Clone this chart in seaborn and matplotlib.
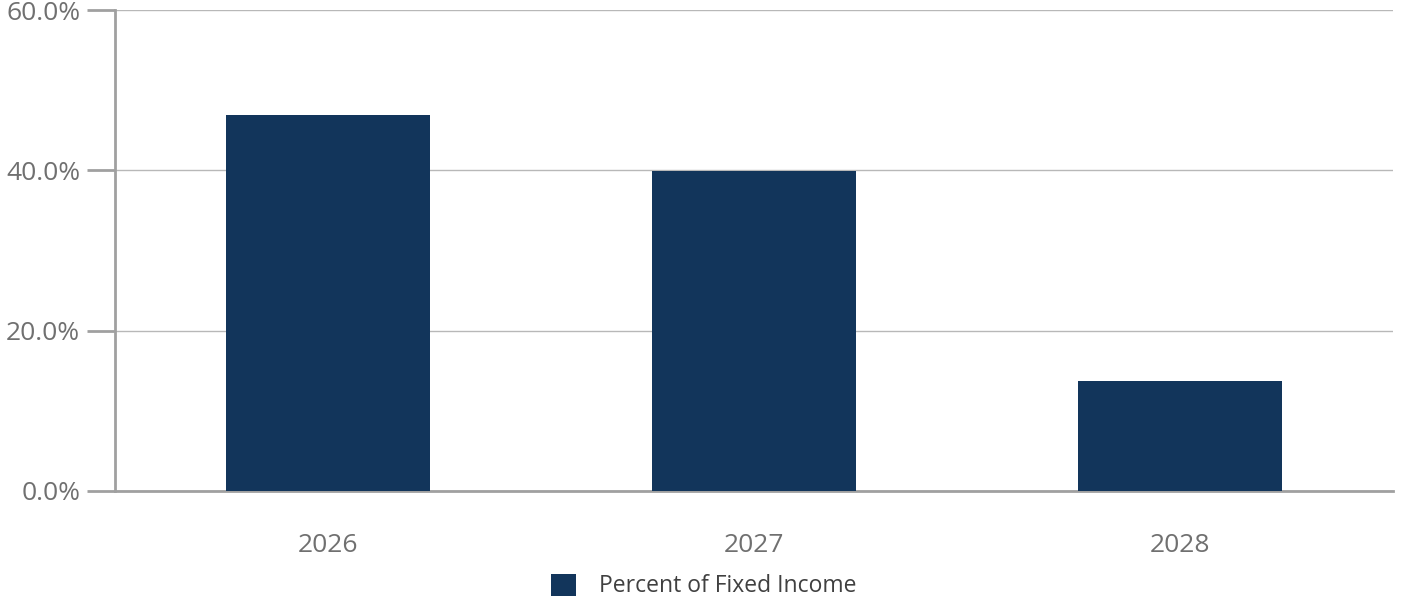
import matplotlib
matplotlib.use("Agg")
import matplotlib.pyplot as plt
import seaborn as sns
import pandas as pd
from matplotlib.ticker import FuncFormatter

years = ["2026", "2027", "2028"]
values = [46.9, 39.9, 13.75]
series_name = "Percent of Fixed Income"
y_ticks = [0, 20, 40, 60]

sns.set_theme(style="white")
plt.rcParams['font.family'] = ['Open Sans', 'DejaVu Sans']

df = pd.DataFrame({"year": years, "value": values})

fig = plt.figure(figsize=(14.02, 6.02), dpi=100)
ax = fig.add_axes([115/1402, 111/602, (1393-115)/1402, (491-10)/602])

sns.barplot(data=df, x="year", y="value", color="#12355b", width=0.48,
            saturation=1, ax=ax, label=series_name, zorder=3, linewidth=0)

ax.set_ylim(0, 60)
ax.set_yticks(y_ticks)
ax.yaxis.set_major_formatter(FuncFormatter(lambda v, p: f"{v:.1f}%"))
ax.set_xlabel("")
ax.set_ylabel("")
ax.grid(axis="y", color="#b8b8b8", linewidth=1.0, zorder=0)
ax.set_axisbelow(True)

for s in ["top", "right"]:
    ax.spines[s].set_visible(False)
for s in ["left", "bottom"]:
    ax.spines[s].set_color("#a0a0a0")
    ax.spines[s].set_linewidth(2)

ax.tick_params(axis="y", which="major", length=20, width=2, color="#a0a0a0",
               labelsize=19, labelcolor="#707070", pad=5, left=True)
ax.tick_params(axis="x", length=0, labelsize=19, labelcolor="#707070", pad=30)

leg = ax.legend(loc="center", bbox_to_anchor=(704/1402, 1 - 586/602),
                bbox_transform=fig.transFigure, frameon=False, fontsize=16.5,
                handlelength=1.1, handleheight=1.1, handletextpad=1.0,
                labelcolor="#404040")

fig.savefig("out.png", dpi=100)
